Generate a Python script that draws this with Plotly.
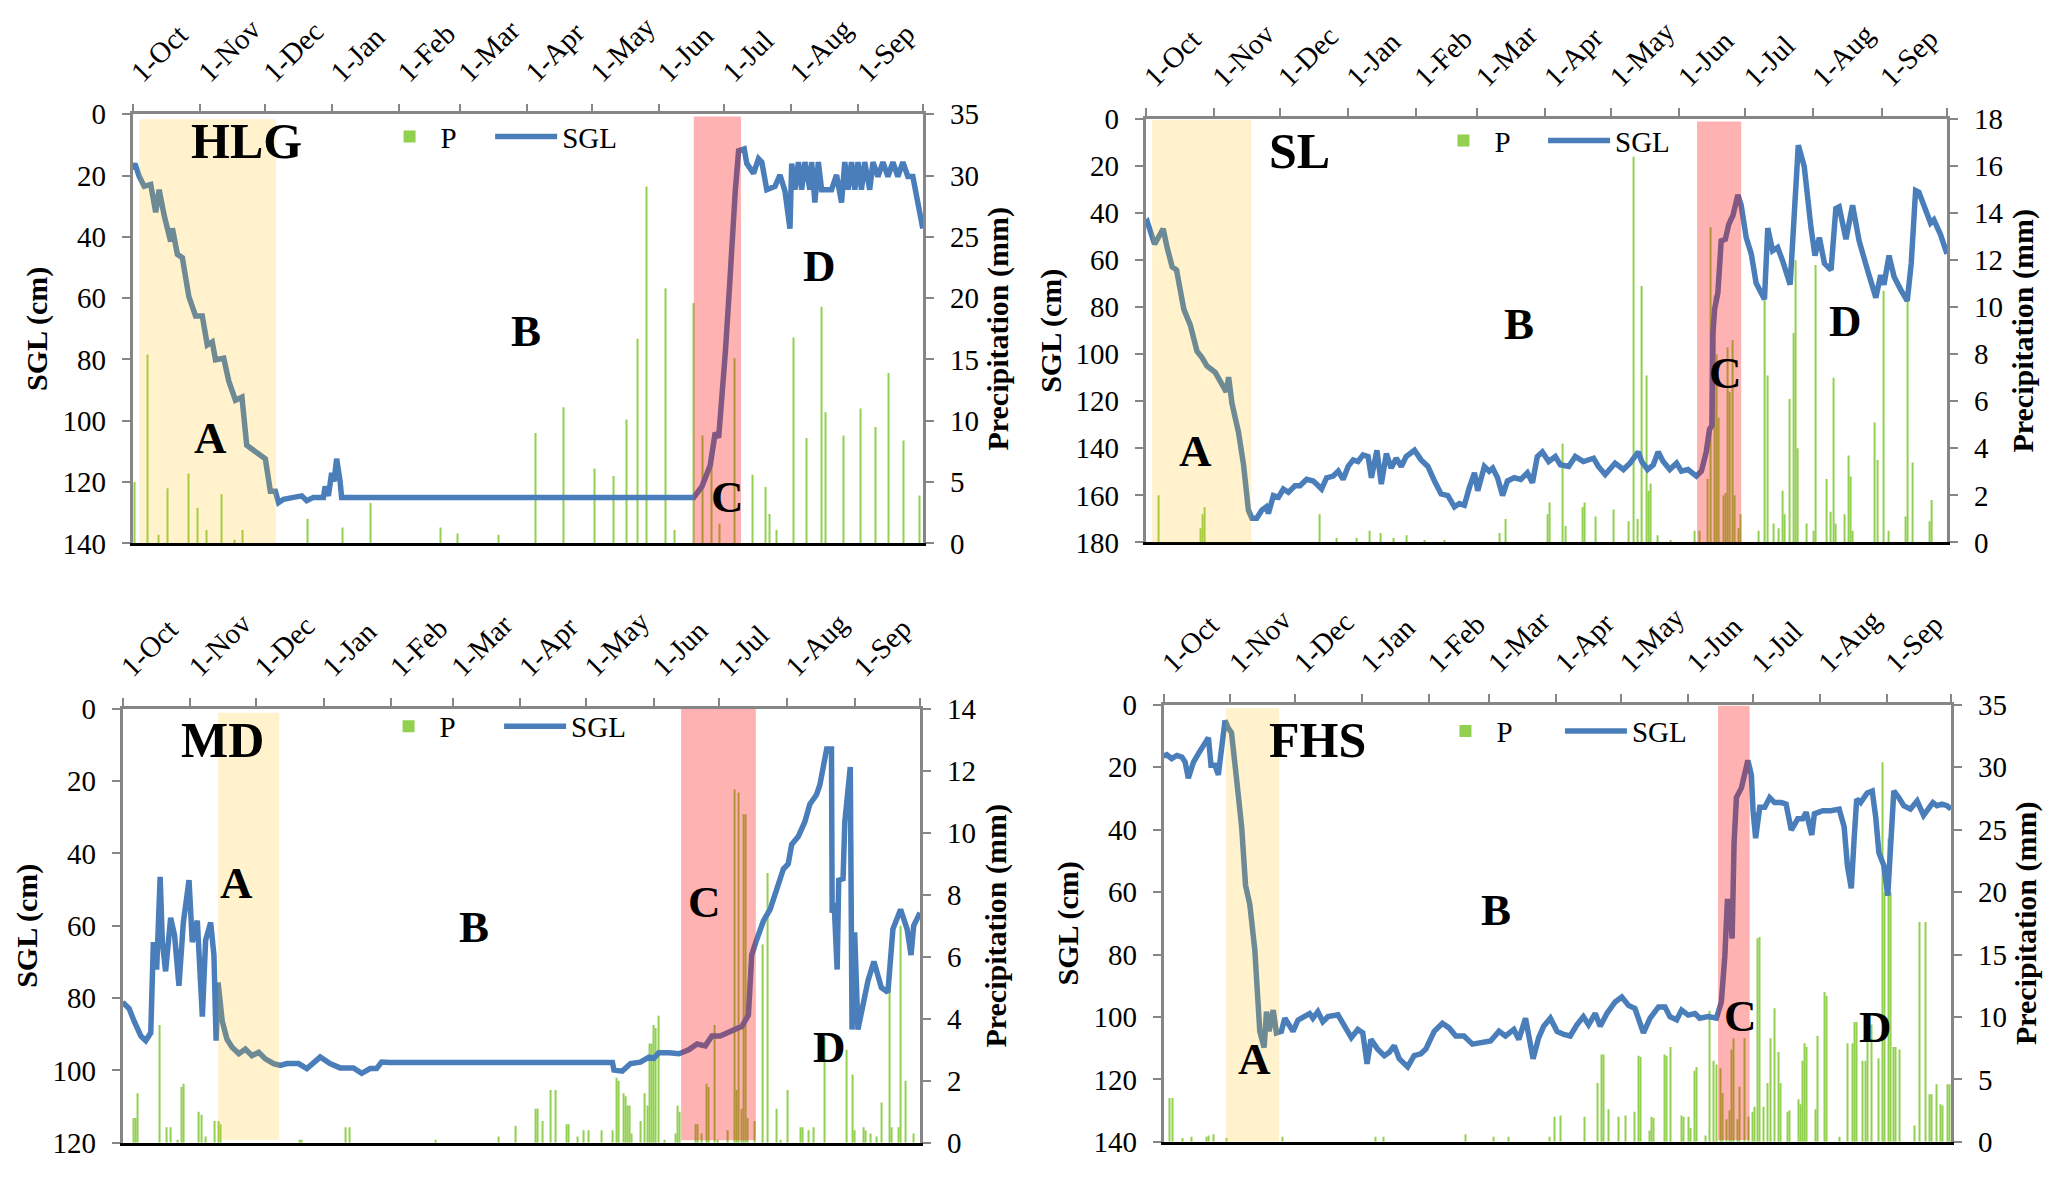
import plotly.graph_objects as go

FONT = "Liberation Serif, Times New Roman, serif"
W, H = 2067, 1186

# ---------------- shared axis labels (day 0 = 1-Oct) ----------------
month_ticks = [0, 31, 61, 92, 123, 151, 182, 212, 243, 273, 304, 335, 365]
month_labels = ["1-Oct", "1-Nov", "1-Dec", "1-Jan", "1-Feb", "1-Mar", "1-Apr",
                "1-May", "1-Jun", "1-Jul", "1-Aug", "1-Sep", ""]

# ---------------- HLG ----------------
hlg_sgl_day = [0, 1.1, 3.1, 5.4, 8.4, 10.7, 12.3, 14.6, 17.6, 18.4, 20.7, 23, 26, 29.1, 32.2,
               34.5, 36.8, 38.3, 42.1, 44.4, 47.5, 50.5, 52.7, 56.7, 59.8, 61.3, 63.6, 65.9,
               67.4, 69.7, 74.3, 78.1, 80.4, 83.5, 88.1, 88.9, 90.4, 91.9, 93, 94.2, 95.8,
               96.5, 259, 262.8, 266.6, 268.9, 270.5, 272, 273.6, 275.6, 276.6, 278.2, 279.7,
               282.3, 283.5, 286.6, 288.9, 290.4, 292.7, 296.5, 298.8, 301.1, 303.4, 304.2,
               305.7, 307.3, 308.8, 310.3, 312.6, 313.4, 314.9, 316.5, 318, 322.6, 324.9,
               327.2, 328.7, 330.2, 331.8, 333.3, 334.8, 336.4, 337.9, 340.2, 341.7, 344,
               346.3, 348.6, 350.9, 353.2, 355.5, 357.8, 360.1, 362.4, 364.7]
hlg_sgl_cm = [18, 16.1, 20.3, 23.5, 22.9, 32, 24.6, 33, 41.5, 37.2, 45.7, 46.8, 59.5, 65.8, 65.8,
              75.3, 74.3, 80.1, 79.6, 87, 93.3, 92.3, 108, 110.3, 111.8, 112.4, 123, 123,
              126.7, 125.6, 125, 124.5, 126.1, 125, 125, 121.4, 124.5, 117, 119.8, 112.4, 119.8,
              125, 125, 121.4, 114.5, 103.9, 105.5, 93.3, 77.5, 55.2, 42.5, 24.6, 11.9,
              11.3, 16.1, 19.3, 14.5, 15.6, 24.6, 23.5, 19.8, 25.1, 37.3, 16.1,
              24.6, 15.6, 24.6, 15.6, 24.6, 15.6, 28.8, 15.6, 24.6, 24.6, 19.8,
              28.8, 15.6, 24.6, 15.6, 24.6, 15.6, 24.6, 15.6, 24.6, 15.6, 20.3,
              15.6, 20.3, 15.6, 20.3, 15.6, 20.3, 20.3, 29.8, 37.3]
hlg_p_day = [1, 7, 12, 16, 26, 30, 34, 41, 47, 51, 81, 97, 110, 142, 150, 169, 186, 199, 213,
             222, 228, 233, 237, 246, 250, 259, 263, 267, 271, 278, 286, 292, 294, 297, 305,
             311, 318, 320, 328, 336, 343, 349, 356, 363]
hlg_p_mm = [5.0, 15.4, 0.7, 4.5, 5.7, 2.9, 1.1, 4.0, 0.3, 1.1, 2.0, 1.3, 3.3, 1.3, 0.8, 0.7, 9.0,
            11.1, 6.1, 5.5, 10.1, 16.7, 29.1, 20.8, 1.1, 19.6, 8.8, 6.4, 1.6, 15.1, 5.6, 4.6,
            2.4, 1.1, 16.8, 8.6, 19.3, 10.7, 8.8, 11.0, 9.5, 13.9, 8.4, 3.9]

# ---------------- SL ----------------
sl_sgl_day = [0, 0.75, 4.1, 6.0, 8, 9.8, 12.1, 14.1, 17.4, 20.4, 23.4, 25.7, 27.9, 31.7, 35.5,
              36.7, 37.8, 39.3, 42.3, 44.6, 46.8, 48.4, 50.6, 52.9, 54.9, 55.9, 58.2, 60.5,
              62.7, 65, 68, 70.3, 73.3, 76.3, 77.8, 80.1, 82.4, 85.4, 87.7, 89.9, 92.2, 94.5,
              96.7, 99, 101.3, 102.8, 105.3, 107.3, 109.6, 111.8, 114.1, 116.4, 118.6, 122.4,
              125.4, 128.5, 131.5, 134.5, 137.6, 140.6, 142.8, 145.1, 147.4, 149.7, 151.2,
              154.2, 156.4, 158, 160.2, 162.5, 164.7, 167.8, 170.8, 173.8, 176.1, 178.3, 180.6,
              183.5, 186.5, 188.8, 192.6, 195.6, 199.3, 203.9, 206.1, 209.2, 213.7, 217.5,
              220.5, 224.3, 225.8, 228.5, 231.1, 233.3, 235.6, 238.6, 241.7, 243.9, 246.9,
              250.7, 253, 255.2, 256.7, 257.8, 258.2, 259, 260.5, 262, 263.9, 265.4, 267.4,
              269.6, 271.1, 273.4, 275.7, 277.9, 281.7, 283.2, 285.4, 287.7, 289.9, 293.4,
              297.1, 299.8, 302.9, 304.7, 306.7, 309, 312, 314.2, 315.7, 318.8, 321.8, 324.8,
              328.6, 332.4, 334.6, 336.1, 338.4, 340.7, 343.7, 346.7, 348.5, 350.5, 352, 355,
              357.3, 358.8, 361.8, 364.8]
sl_sgl_cm = [44, 43.5, 53.2, 49.7, 46.6, 54.6, 62.8, 64.2, 80.8, 87.7, 98.7, 101.4, 104.9, 107.7,
             113.9, 116, 109.7, 120.8, 133.2, 147, 166.3, 169.7, 169.7, 166.3, 164.9, 167.7,
             160.1, 160.8, 157.3, 158.7, 155.9, 155.9, 153.2, 153.9, 155.2, 157.3, 152.5, 151.8,
             149.7, 153.2, 147.7, 144.9, 145.6, 142.8, 143.5, 152.5, 140.8, 155.2, 142.2, 148.4,
             144.2, 147.7, 143.5, 140.8, 144.9, 147.7, 153.9, 159.4, 160.1, 164.9, 163.5, 164.2,
             156.6, 150.4, 158, 147.7, 149.7, 148.4, 152.5, 160.1, 153.9, 152.5, 153.2, 150.4,
             154.6, 143.5, 141.5, 145.6, 143.5, 147, 147.7, 143.5, 145.6, 144.2, 147.7, 151.1,
             146.3, 149, 146.3, 141.5, 145.6, 149, 147, 141.5, 145.6, 149, 146.3, 149.7, 149,
             151.8, 149.7, 141.5, 131.8, 130.4, 91.8, 80.8, 73.9, 51.8, 51.1, 44.9, 40.8, 32.2,
             36.6, 50.4, 57.3, 69.7, 76.6, 46.3, 56, 54.6, 60.1, 70.4, 11.1, 20.1, 46.3, 58,
             50.4, 61.4, 64.2, 38, 37.3, 51.1, 36.6, 51.8, 64.2, 75.9, 66.3, 70.4, 58, 67,
             72.5, 77.3, 61.4, 30.4, 31.1, 38, 44.2, 42.8, 49, 57.3]
sl_p_day = [6, 25, 26, 27, 79, 87, 96, 102, 107, 113, 119, 127, 136, 161, 164, 183, 184, 190,
            191, 199, 200, 205, 213, 220, 222, 224, 226, 228, 229, 230, 233, 239, 250, 252, 256,
            257, 259, 260, 261, 263, 264, 265, 266, 267, 268, 270, 271, 279, 282, 283, 286,
            288, 290, 291, 293, 295, 296, 297, 301, 304, 305, 310, 312, 313, 314, 318, 320,
            321, 322, 332, 333, 336, 338, 346, 347, 349, 357, 358]
sl_p_mm = [2.0, 0.6, 1.2, 1.5, 1.2, 0.2, 0.2, 0.5, 0.4, 0.2, 0.3, 0.1, 0.1, 0.4, 1.0, 1.2, 1.7,
           4.2, 0.7, 1.5, 1.7, 1.1, 1.4, 0.9, 16.4, 1.0, 10.9, 7.1, 2.2, 2.5, 0.3, 0.1, 0.5,
           0.5, 2.7, 13.4, 10.5, 8.0, 5.3, 2.0, 2.1, 8.3, 6.4, 8.6, 2.0, 0.6, 1.2, 0.5, 10.3,
           7.1, 0.8, 0.6, 2.2, 1.2, 6.1, 8.9, 12.0, 4.0, 0.8, 0.5, 11.8, 2.7, 1.3, 7.0, 0.8,
           1.2, 3.7, 2.8, 0.5, 5.1, 3.5, 10.7, 0.5, 1.1, 10.3, 3.4, 0.9, 1.8]

# ---------------- MD ----------------
md_sgl_day = [0, 3.0, 5.3, 8.4, 10.6, 12.9, 14.1, 15.6, 17.2, 18.2, 19.7, 22, 23.8, 25.8, 27.8,
              30.4, 31.9, 34.2, 36.5, 38, 40.3, 41.8, 42.8, 43.7, 45.6, 47.8, 50.1, 53.2, 56.2,
              59.2, 62.3, 65.3, 69.1, 72.2, 75.2, 80.5, 84.3, 88.1, 90.4, 94.9, 99.5, 105.6,
              109.4, 113.2, 116.2, 118.5, 122.3, 224.1, 224.8, 228.6, 232.4, 236.9, 240.8,
              243.1, 245.3, 249.9, 254.5, 259, 262.8, 266.6, 269.6, 273.4, 277.2, 281, 283.3,
              286.3, 287.8, 289.7, 293.2, 296.2, 300, 302.3, 304.5, 306.1, 309.1, 312.1, 314.4,
              317.5, 319, 322.1, 324.3, 324.6, 325.5, 326.9, 327.6, 329.6, 330.4, 332.9, 333.7,
              334.9, 336.4, 338.7, 341, 343.7, 347.1, 350.1, 352.4, 355.9, 358.9, 360.7, 361.9,
              364.8]
md_sgl_cm = [81.1, 82.9, 86.4, 90.5, 91.8, 89.6, 64.5, 72.1, 46.5, 64.5, 72.6, 57.8, 62.7, 76.6,
             59.1, 47.4, 64.5, 58.6, 85.1, 64, 59.1, 68.1, 91.8, 75.7, 86.4, 91.4, 93.6, 95.4,
             94.1, 95.9, 95, 96.8, 98.1, 98.6, 98.1, 98.1, 99.5, 97.7, 96.3, 98.1, 99.3, 99.3,
             100.8, 99.5, 99.5, 97.7, 97.8, 97.8, 99.9, 100.2, 98.1, 97.7, 96.3,
             96.6, 95.1, 95.1, 95.4, 94.3, 92.7, 93.2, 90.5, 90.5, 89.6, 88.3, 87.8,
             84.7, 68.1, 64.5, 58.6, 55.5, 48.3, 44.3, 42.9, 37.5, 35.3, 31.3, 26.4,
             23.7, 21, 11.1, 11.1, 56.4, 53.7, 72.1, 47.4, 47, 31.3, 16.1, 88.7,
             61.8, 88.7, 81.1, 75.2, 69.9, 77.1, 78.4, 60.9, 55.5, 60.9, 68.1, 60,
             56.4]
md_p_day = [5, 6, 7, 17, 20, 22, 25, 27, 28, 35, 36, 38, 42, 44, 45, 81, 82, 102, 104, 143, 172,
            180, 189, 190, 192, 196, 198, 203, 204, 208, 211, 213, 219, 224, 226, 227, 229, 230,
            231, 232, 233, 237, 239, 240, 241, 242, 243, 244, 245, 248, 253, 254, 255, 262,
            263, 265, 267, 268, 271, 272, 277, 280, 281, 282, 283, 284, 285, 286, 289, 293,
            295, 299, 301, 304, 310, 311, 314, 316, 321, 331, 334, 335, 339, 340, 342, 345,
            347, 351, 352, 355, 356, 358, 362]
md_p_mm = [0.8, 0.8, 1.6, 3.8, 0.5, 0.5, 0.1, 1.8, 1.9, 1.0, 0.9, 0.2, 0.7, 0.7, 0.6, 0.1, 0.1,
           0.5, 0.5, 0.1, 0.2, 0.55, 1.1, 1.1, 0.7, 1.7, 1.7, 0.6, 0.6, 0.2, 0.4, 0.4, 0.4, 0.4,
           2.1, 2.0, 1.6, 1.5, 1.2, 1.2, 0.3, 0.7, 1.6, 1.2, 3.2, 3.2, 3.8, 3.7, 4.1, 0.1, 0.3,
           1.2, 1.0, 0.6, 0.6, 0.3, 1.9, 1.8, 3.8, 0.1, 0.4, 11.4, 1.7, 11.3, 1.1, 10.6, 10.6,
           0.8, 0.7, 6.4, 8.7, 1.1, 0.1, 1.7, 0.5, 0.5, 0.4, 0.5, 3.4, 3.0, 2.2, 0.4, 0.5,
           0.4, 0.3, 0.2, 1.3, 5.1, 0.5, 0.5, 7.0, 2.0, 0.3]

# ---------------- FHS ----------------
fhs_sgl_day = [0, 1.5, 3.8, 6.2, 8.5, 10, 11.5, 13.9, 16.1, 18.5, 20.8, 22, 23.8, 25.4, 27.2,
               28.5, 30, 31.5, 33.8, 36.2, 38, 40, 42.3, 43.8, 44.6, 46.6, 47.7, 48.9, 50.8,
               52.3, 54.6, 56.2, 58.5, 60, 62.3, 65.4, 67.7, 69.2, 71.5, 73.8, 76.2, 80.8, 83.8,
               87, 90, 92.3, 94.3, 96.1, 99.2, 102.3, 104.6, 106.9, 109.2, 113.1, 116.1, 119.2,
               121.5, 123.1, 125.4, 129.2, 132.3, 135.4, 139.2, 143.1, 146.9, 151.5, 155.4,
               158.4, 162.3, 164.6, 167.7, 169.2, 171.2, 173.8, 176.1, 179.2, 182.3, 185.4,
               188.4, 191.5, 194.5, 196.9, 200, 202.3, 205.4, 209.2, 212.3, 215.4, 218.4, 222.3,
               225.4, 229.3, 232.3, 234.6, 237.7, 240, 243.1, 246.2, 248.4, 252.3, 256.1, 258.4,
               260, 261.2, 262.3, 263.4, 264.3, 265.4, 267.7, 270.7, 272.3, 273.1, 274.3, 276.2,
               278.5, 280.8, 283.1, 286.2, 288.4, 290.8, 293.8, 296.1, 297.7, 300.3, 301.5,
               305.4, 309.2, 313, 315.3, 316.8, 318.6, 319.9, 321.1, 322.9, 326, 328.3, 329.9,
               331.4, 333.7, 335.5, 336.8, 338.3, 340.6, 342.9, 346, 349.1, 352.1, 354.4, 356.4,
               358.3, 360.6, 362.9, 364.8]
fhs_sgl_cm = [16.5, 16, 17.2, 16.2, 16.7, 18.3, 23.5, 18.3, 15.7, 13.1, 10.5, 19.3, 19.3, 22.4,
              10, 5, 7.4, 8.9, 23.5, 39.1, 57.8, 64, 78.6, 96.2, 104.6, 109.8, 98.3, 104.6, 97.8,
              105.1, 104.6, 100.4, 103.5, 104.6, 101, 99.9, 98.9, 100.4, 98.3, 101.5, 99.9, 99.3,
              102.5, 106.6, 104, 105.1, 115, 107.2, 110.3, 112.4, 111.3, 109.2, 113.4, 116, 112.4,
              111.8, 110.3, 107.7, 104.6, 102, 103.5, 106.1, 106.1, 108.7, 108.2, 107.7, 104.6,
              106.1, 104, 107.2, 100.4, 105.6, 113.4, 106.6, 103, 100.4, 104.6, 105.6,
              106.1, 102.5, 99.9, 102.5, 98.9, 103, 98.9, 95.2, 93.6, 96.3, 97.3, 105.1,
              100.4, 96.8, 96.8, 99.9, 100.9, 97.8, 99.4, 98.9, 100.4, 99.9, 100.4, 95.2,
              80.7, 63, 63, 74.9, 44.3, 29.7, 26.6, 17.8, 22.4, 33.9, 42.7, 32.8,
              32.8, 29.7, 31.3, 31.3, 31.8, 40.1, 36.5, 36.5, 34.4, 41.7, 34.9,
              33.9, 33.9, 33.4, 39.1, 51.5, 58.8, 43.2, 30.2, 31.3, 28.2, 27.6, 35.9,
              47.4, 51.5, 61.1, 46.4, 27.6, 29.7, 32.3, 33.4, 30.8, 35.4, 32.8, 31.3,
              32.3, 31.8, 32.3, 33.4]
fhs_p_day = [3, 4, 9, 13, 20, 21, 23, 29, 55, 98, 102, 140, 153, 160, 179, 181, 184, 195, 201,
             203, 204, 206, 211, 214, 218, 220, 221, 225, 226, 227, 232, 233, 235, 240, 241, 243,
             244, 246, 247, 251, 253, 255, 256, 258, 259, 261, 262, 263, 264, 266, 267, 269,
             271, 273, 274, 275, 276, 278, 280, 281, 283, 285, 286, 289, 290, 294, 295, 296,
             297, 298, 302, 303, 306, 307, 313, 317, 319, 320, 321, 324, 325, 326, 328, 331,
             333, 334, 336, 337, 338, 339, 341, 348, 350, 353, 355, 356, 358, 360, 361, 363, 364]
fhs_p_mm = [3.5, 3.5, 0.3, 0.4, 0.4, 0.5, 0.6, 0.3, 0.4, 0.4, 0.4, 0.6, 0.4, 0.4, 0.4, 2.0, 2.1,
            2.0, 4.7, 7.0, 7.0, 2.6, 2.0, 2.1, 2.4, 6.9, 6.8, 0.9, 2.0, 1.9, 7.0, 6.9, 7.6, 2.1,
            2.0, 2.0, 1.1, 5.7, 6.0, 0.5, 10.5, 6.5, 6.2, 5.9, 3.9, 1.8, 2.5, 7.4, 8.3, 1.8,
            4.4, 8.3, 2.0, 2.4, 2.8, 16.3, 16.4, 2.8, 4.7, 8.3, 10.7, 7.2, 4.7, 2.4, 2.5, 3.4,
            3.0, 6.5, 7.9, 7.6, 2.6, 8.5, 12.0, 11.7, 0.4, 7.9, 7.9, 9.6, 9.6, 6.5, 6.5, 9.4,
            9.4, 6.7, 30.4, 20.0, 24.3, 20.0, 7.6, 7.6, 7.4, 1.3, 17.6, 17.6, 3.8, 3.8, 4.6,
            3.0, 2.9, 4.6, 4.6]

# ---------------- stage periods (day range, SGL extent) ----------------
hlg_periods = {"A": (3.1, 66.2, 1.6, 140), "C": (259, 280.8, 0.7, 140)}
sl_periods = {"A": (3.0, 48.1, 0.3, 180), "C": (251, 271.1, 1.0, 180)}
md_periods = {"A": (43.7, 71.7, 1.1, 119.2), "C": (255.5, 289.7, 0, 119.3)}
fhs_periods = {"A": (28.8, 53.5, 1.1, 140), "C": (256.9, 271.5, 0.3, 139.4)}

# label positions (day, SGL cm)
hlg_labels = {"HLG": (52.7, 11.7), "A": (36, 108.7), "B": (181.5, 73.5), "C": (274.6, 127.7), "D": (317, 52.6)}
sl_labels = {"SL": (70, 17.3), "A": (22.7, 144.9), "B": (170, 91.1), "C": (263.9, 111.8), "D": (318.8, 89.7)}
md_labels = {"MD": (45.6, 11.1), "A": (52.1, 50.6), "B": (160.7, 62.7), "C": (266.1, 56), "D": (323.5, 95.9)}
fhs_labels = {"FHS": (71.2, 14.1), "A": (42.3, 116.5), "B": (153.8, 68.7), "C": (267.3, 102.5), "D": (330, 106.1)}

sites = [
    dict(name="HLG", sgl_day=hlg_sgl_day, sgl_cm=hlg_sgl_cm, p_day=hlg_p_day, p_mm=hlg_p_mm,
         smax=140, pmax=35, pdt=5, periods=hlg_periods, labels=hlg_labels,
         dx=(125, 919), dy=(101, 542), leg_p=(372, 124), leg_s=(484, 124)),
    dict(name="SL", sgl_day=sl_sgl_day, sgl_cm=sl_sgl_cm, p_day=sl_p_day, p_mm=sl_p_mm,
         smax=180, pmax=18, pdt=2, periods=sl_periods, labels=sl_labels,
         dx=(1142, 1947), dy=(106, 541), leg_p=(1430, 128), leg_s=(1541, 128)),
    dict(name="MD", sgl_day=md_sgl_day, sgl_cm=md_sgl_cm, p_day=md_p_day, p_mm=md_p_mm,
         smax=120, pmax=14, pdt=2, periods=md_periods, labels=md_labels,
         dx=(115, 916), dy=(712, 1158), leg_p=(371, 730), leg_s=(493, 730)),
    dict(name="FHS", sgl_day=fhs_sgl_day, sgl_cm=fhs_sgl_cm, p_day=fhs_p_day, p_mm=fhs_p_mm,
         smax=140, pmax=35, pdt=5, periods=fhs_periods, labels=fhs_labels,
         dx=(1160, 1951), dy=(708, 1157), leg_p=(1432, 735), leg_s=(1558, 735)),
]

GRAY = "#868686"
BLUE = "#4a7ebb"
GREEN = "#92d050"
TICK = 29
TITLE = 30

fig = go.Figure()
layout = dict(width=W, height=H, margin=dict(l=0, r=0, t=0, b=0),
              paper_bgcolor="white", plot_bgcolor="white",
              font=dict(family=FONT, size=TICK, color="black"),
              showlegend=True, shapes=[], annotations=[])


def legend_box(pos, itemwidth):
    return dict(orientation="h", x=pos[0] / W, y=1 - pos[1] / H,
                xanchor="left", yanchor="middle", bgcolor="rgba(0,0,0,0)",
                font=dict(family=FONT, size=29, color="black"),
                itemwidth=itemwidth, tracegroupgap=0, itemclick=False, itemdoubleclick=False)


for i, s in enumerate(sites, start=1):
    j = i + 4
    xa = "x" if i == 1 else f"x{i}"
    ya = "y" if i == 1 else f"y{i}"
    xo, yo = f"x{j}", f"y{j}"
    leg_p = "legend" if i == 1 else f"legend{i}"
    leg_s = f"legend{j}"
    dom_x = [s["dx"][0] / W, s["dx"][1] / W]
    dom_y = [1 - s["dy"][1] / H, 1 - s["dy"][0] / H]

    fig.add_trace(go.Bar(x=s["p_day"], y=s["p_mm"], name="P", width=0.5,
                         marker=dict(color=GREEN, line=dict(width=0)),
                         xaxis=xa, yaxis=ya, legend=leg_p))
    fig.add_trace(go.Scatter(x=s["sgl_day"], y=s["sgl_cm"], name="SGL", mode="lines",
                             line=dict(color=BLUE, width=5.5),
                             xaxis=xo, yaxis=yo, legend=leg_s))

    k = "" if i == 1 else str(i)
    layout[f"xaxis{k}"] = dict(domain=dom_x, anchor=ya, side="bottom", range=[0, 365],
                               showline=True, linecolor="black", linewidth=3,
                               showticklabels=False, ticks="", showgrid=False, zeroline=False)
    layout[f"yaxis{k}"] = dict(domain=dom_y, anchor=xa, side="right", range=[0, s["pmax"]],
                               dtick=s["pdt"], tick0=0, showline=True, linecolor=GRAY, linewidth=2.5,
                               ticks="outside", ticklen=8, tickwidth=2, tickcolor=GRAY,
                               ticklabelstandoff=10,
                               showgrid=False, zeroline=False,
                               tickfont=dict(family=FONT, size=TICK),
                               title=dict(text="Precipitation (mm)", standoff=10,
                                          font=dict(family=FONT, size=TITLE, weight="bold")))
    layout[f"xaxis{j}"] = dict(overlaying=xa, anchor=yo, side="top", range=[0, 365],
                               tickmode="array", tickvals=month_ticks, ticktext=month_labels,
                               tickangle=-45, showline=True, linecolor=GRAY, linewidth=2.5,
                               ticks="outside", ticklen=8, tickwidth=2, tickcolor=GRAY,
                               ticklabelstandoff=4,
                               showgrid=False, zeroline=False,
                               tickfont=dict(family=FONT, size=TICK))
    layout[f"yaxis{j}"] = dict(overlaying=ya, anchor=xo, side="left", range=[s["smax"], 0],
                               dtick=20, tick0=0, showline=True, linecolor=GRAY, linewidth=2.5,
                               ticks="outside", ticklen=8, tickwidth=2, tickcolor=GRAY,
                               ticklabelstandoff=10,
                               showgrid=False, zeroline=False,
                               tickfont=dict(family=FONT, size=TICK),
                               title=dict(text="SGL (cm)", standoff=6,
                                          font=dict(family=FONT, size=TITLE, weight="bold")))
    layout[leg_p] = legend_box(s["leg_p"], 52)
    layout[leg_s] = legend_box(s["leg_s"], 62)

    pa = s["periods"]["A"]
    pc = s["periods"]["C"]
    layout["shapes"].append(dict(type="rect", xref=xo, yref=yo, x0=pa[0], x1=pa[1], y0=pa[2], y1=pa[3],
                                 fillcolor="rgba(255,192,0,0.2)", line=dict(width=0), layer="above"))
    layout["shapes"].append(dict(type="rect", xref=xo, yref=yo, x0=pc[0], x1=pc[1], y0=pc[2], y1=pc[3],
                                 fillcolor="rgba(255,0,0,0.3)", line=dict(width=0), layer="above"))
    for txt, (dx_, cy_) in s["labels"].items():
        size = 50 if txt == s["name"] else 45
        layout["annotations"].append(dict(xref=xo, yref=yo, x=dx_, y=cy_, text=f"<b>{txt}</b>",
                                          showarrow=False, xanchor="center", yanchor="middle",
                                          yshift=9,
                                          font=dict(family=FONT, size=size, color="black")))

fig.update_layout(**layout)
fig.write_html("out.html", config={"displayModeBar": False},
               post_script="document.body.style.margin='0';")
